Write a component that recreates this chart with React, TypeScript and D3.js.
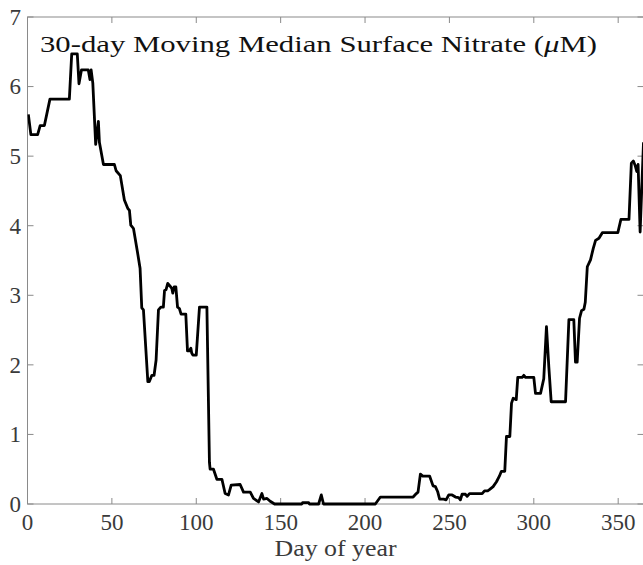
import React from "react";
import * as d3 from "d3";

// Day of year and 30-day moving median nitrate (µM)
const days: number[] = [
  0.5, 2, 6, 7.5, 10, 11.4, 13.3, 24.8, 26.2, 29.5, 30.5, 32, 36, 37, 37.7, 38.7,
  40.4, 42, 42.6, 45, 51.5, 52.5, 55, 57.4, 59.4, 60.4, 61.2, 62.8, 65.1, 66.7,
  67.7, 68.7, 71.3, 72.2, 73.7, 75, 76.2, 77.6, 79, 80.5, 81.2, 82.1, 83.1, 84.5,
  85.5, 86.1, 86.9, 87.9, 88.9, 90, 91, 93.8, 94.8, 95.8, 96.8, 97.3, 98, 100,
  101.9, 106.3, 107.8, 108.2, 110.2, 112.2, 115.2, 117.1, 119.1, 120.7, 126, 128,
  132, 133.9, 136.9, 138.9, 139.9, 141.9, 143.8, 146.4, 162.6, 163, 166.6, 167,
  172.5, 174.1, 175.4, 206.1, 209.1, 228.5, 230.4, 231.4, 232.8, 234.2, 238.3,
  240.3, 241.7, 243, 244.2, 246.6, 248, 249.6, 251.6, 253.6, 255.5, 256.5, 257.5,
  259.5, 260.5, 261.9, 269.4, 270.8, 272.7, 273.9, 275.9, 277.9, 279.6, 280.8,
  282.8, 283.8, 285.8, 286.8, 287.8, 289.6, 290.5, 293.1, 294.1, 295.1, 300, 301,
  304, 305.9, 307.5, 308.9, 310.3, 318.8, 320.8, 323.7, 324.7, 325.7, 327.1,
  328.3, 329.7, 330.5, 331.7, 333.6, 335.2, 336.6, 338.6, 340.6, 349.8, 351.6,
  356.4, 357.8, 359, 360, 361, 361.8, 363, 365,
];

const nitrate: number[] = [
  5.6, 5.31, 5.31, 5.44, 5.44, 5.6, 5.82, 5.82, 6.47, 6.47, 6.04, 6.24, 6.24, 6.1,
  6.24, 6.05, 5.17, 5.5, 5.2, 4.88, 4.88, 4.79, 4.72, 4.37, 4.25, 4.22, 4.01, 3.96,
  3.63, 3.39, 2.82, 2.79, 1.76, 1.76, 1.85, 1.85, 2.07, 2.79, 2.83, 2.83, 3.07,
  3.08, 3.17, 3.13, 3.1, 3.03, 3.12, 3.12, 2.83, 2.81, 2.73, 2.73, 2.2, 2.2, 2.24,
  2.17, 2.14, 2.14, 2.83, 2.83, 0.6, 0.5, 0.5, 0.355, 0.355, 0.15, 0.13, 0.27,
  0.28, 0.17, 0.17, 0.08, 0.03, 0.15, 0.07, 0.08, 0.04, 0, 0, 0.02, 0.02, 0, 0,
  0.13, 0, 0, 0.1, 0.1, 0.15, 0.17, 0.43, 0.4, 0.4, 0.26, 0.25, 0.18, 0.07, 0.07,
  0.06, 0.13, 0.13, 0.1, 0.09, 0.06, 0.14, 0.14, 0.11, 0.15, 0.15, 0.19, 0.19,
  0.21, 0.25, 0.32, 0.4, 0.47, 0.47, 0.97, 0.97, 1.45, 1.52, 1.5, 1.82, 1.82,
  1.85, 1.82, 1.82, 1.59, 1.59, 1.8, 2.55, 1.97, 1.47, 1.47, 2.65, 2.65, 2.04,
  2.04, 2.67, 2.78, 2.8, 2.9, 3.41, 3.51, 3.67, 3.79, 3.82, 3.9, 3.9, 4.09, 4.09,
  4.9, 4.93, 4.87, 4.78, 4.88, 3.91, 5.2,
];

const xTicks: number[] = [0, 50, 100, 150, 200, 250, 300, 350];
const yTicks: number[] = [0, 1, 2, 3, 4, 5, 6, 7];

const titleText = "30-day Moving Median Surface Nitrate (";
const titleUnit = "μ";
const titleTail = "M)";
const xLabel = "Day of year";

export default function App() {
  const width = 643;
  const height = 565;
  const left = 27.5;
  const right = 643.5;
  const top = 17;
  const bottom = 504;

  const x = d3.scaleLinear().domain([0, 365]).range([left, right]);
  const y = d3.scaleLinear().domain([0, 7]).range([bottom, top]);

  const points: [number, number][] = days.map((d, i) => [d, nitrate[i]]);
  const line = d3
    .line<[number, number]>()
    .x((p) => x(p[0]))
    .y((p) => y(p[1]));

  const axisColor = "#8a8a8a";
  const textColor = "#3a3a3a";
  const font = "'Liberation Serif', 'DejaVu Serif', serif";
  const tickLen = 6;

  return (
    <svg
      width={width}
      height={height}
      style={{ position: "absolute", left: 0, top: 0, background: "#fff" }}
      fontFamily={font}
    >
      <defs>
        <clipPath id="plotArea">
          <rect x={left} y={top - 2} width={right - left} height={bottom - top + 4} />
        </clipPath>
      </defs>
      <rect x={0} y={0} width={width} height={height} fill="#fff" />

      {/* axis box */}
      <rect
        x={left}
        y={top}
        width={right - left}
        height={bottom - top}
        fill="none"
        stroke={axisColor}
        strokeWidth={1}
      />

      {/* x ticks (bottom and top, inward) */}
      {xTicks.map((t) => (
        <g key={"xt" + t}>
          <line x1={x(t)} x2={x(t)} y1={bottom} y2={bottom - tickLen} stroke={axisColor} />
          <line x1={x(t)} x2={x(t)} y1={top} y2={top + tickLen} stroke={axisColor} />
          <text x={x(t)} y={530} textAnchor="middle" fontSize={23} fill={textColor}>
            {t}
          </text>
        </g>
      ))}

      {/* y ticks (left and right, inward) */}
      {yTicks.map((t) => (
        <g key={"yt" + t}>
          <line x1={left} x2={left + tickLen} y1={y(t)} y2={y(t)} stroke={axisColor} />
          <line x1={right} x2={right - tickLen} y1={y(t)} y2={y(t)} stroke={axisColor} />
          <text
            x={21}
            y={y(t)}
            dy="0.34em"
            textAnchor="end"
            fontSize={23}
            fill={textColor}
          >
            {t}
          </text>
        </g>
      ))}

      {/* nitrate series */}
      <path
        d={line(points) ?? ""}
        fill="none"
        stroke="#000"
        strokeWidth={2.8}
        strokeLinejoin="round"
        clipPath="url(#plotArea)"
      />

      {/* title inside the axes */}
      <text
        x={40}
        y={52}
        fontSize={23}
        fill="#111"
        textLength={557}
        lengthAdjust="spacingAndGlyphs"
      >
        {titleText}
        <tspan fontStyle="italic">{titleUnit}</tspan>
        {titleTail}
      </text>

      {/* x axis label */}
      <text
        x={(left + right) / 2}
        y={556}
        textAnchor="middle"
        fontSize={24}
        fill={textColor}
        textLength={122}
        lengthAdjust="spacingAndGlyphs"
      >
        {xLabel}
      </text>
    </svg>
  );
}
